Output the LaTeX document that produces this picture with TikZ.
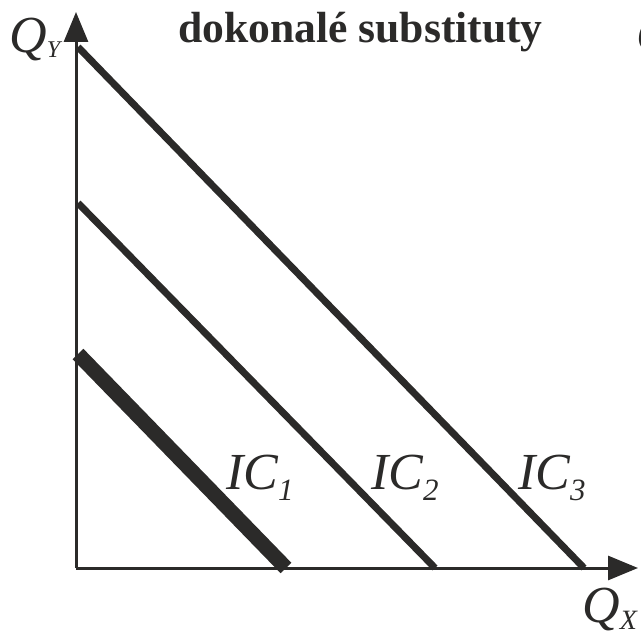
\documentclass[tikz,border=0pt]{standalone}
\usepackage{fontspec}
\setmainfont{Liberation Serif}
\usetikzlibrary{arrows.meta}
\definecolor{ink}{RGB}{43,42,41}
\newcommand{\sublbl}[3]{\fontsize{52}{52}\selectfont\itshape #1\raisebox{-#3pt}{\fontsize{31}{31}\selectfont #2}}
\begin{document}
\begin{tikzpicture}[x=1pt,y=-1pt,
  axis/.style={draw=ink,line width=3pt,-{Triangle[length=30pt,width=24pt]}},
  curve/.style={draw=ink,line width=7pt},
  thickcurve/.style={draw=ink,line width=15pt},
  lbl/.style={text=ink,inner sep=0pt,anchor=base west},
  every node/.style={inner sep=0pt}]
\useasboundingbox (0,0) rectangle (641,634);
\coordinate (O) at (76,568);
\coordinate (ytip) at (76,12);
\coordinate (xtip) at (638,568);
\draw[axis] (O) -- (ytip);
\draw[axis] (O) -- (xtip);
% indifference curves
\coordinate (a3) at (78,47);
\coordinate (b3) at (584,568);
\coordinate (a2) at (78,203);
\coordinate (b2) at (435,568);
\coordinate (a1) at (78,354);
\coordinate (b1) at (286,568);
\draw[curve] (a3) -- (b3);
\draw[curve] (a2) -- (b2);
\draw[thickcurve] (a1) -- (b1);
% labels
\node[lbl] (qy) at (9,53) {\sublbl{Q}{\fontsize{24}{24}\selectfont Y}{5}};
\node[lbl] (qx) at (582,622) {\sublbl{Q}{\fontsize{28}{28}\selectfont X}{7}};
\node[lbl] (qr) at (636,53) {\fontsize{52}{52}\selectfont\itshape Q};
\node[lbl] (ic1) at (226,489) {\sublbl{IC}{1}{11}};
\node[lbl] (ic2) at (371,489) {\sublbl{IC}{2}{11}};
\node[lbl] (ic3) at (518,489) {\sublbl{IC}{3}{11}};
\node[text=ink,anchor=base] (title) at (360.5,43) {\fontsize{43.6}{44}\selectfont\bfseries dokonalé substituty};
\end{tikzpicture}
\end{document}
